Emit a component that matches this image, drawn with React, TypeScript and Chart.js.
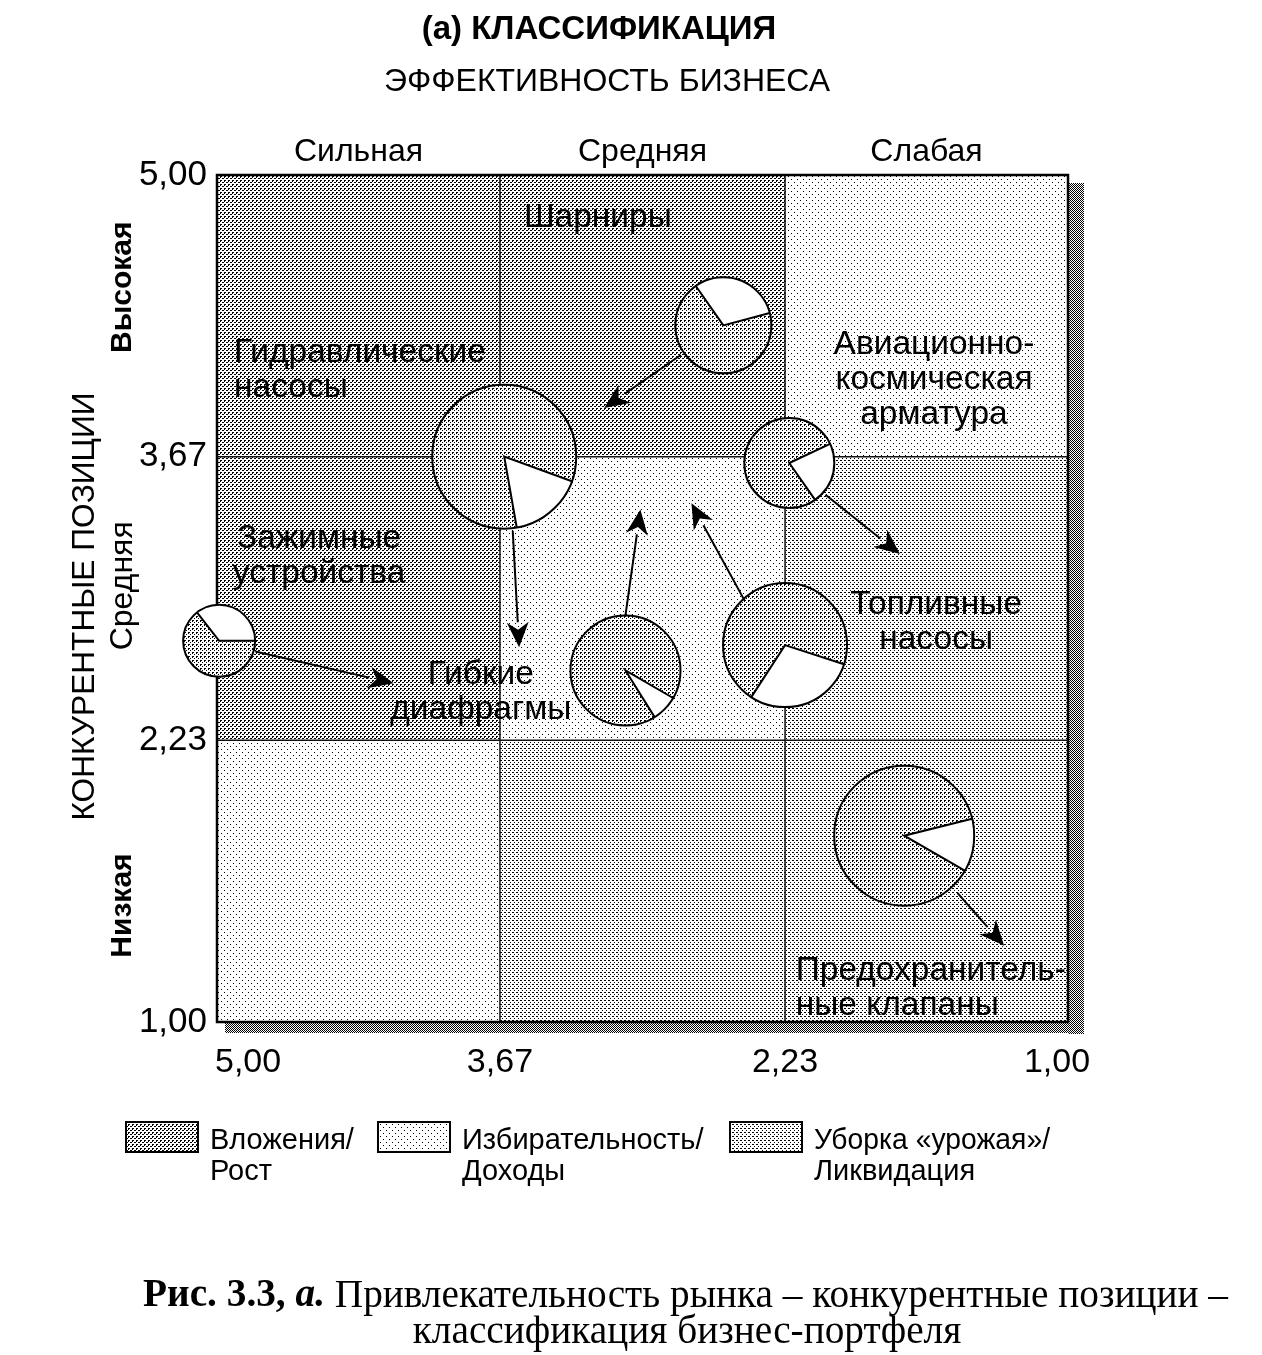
import { useEffect, useRef } from "react";
import { Chart, registerables } from "chart.js";

Chart.register(...registerables);

// ---------- data ----------
const xBounds = [5.0, 3.67, 2.33, 1.0];
const yBounds = [5.0, 3.67, 2.33, 1.0];
const xTickLabels = ["5,00", "3,67", "2,23", "1,00"];
const yTickLabels = ["5,00", "3,67", "2,23", "1,00"];
const columnNames = ["Сильная", "Средняя", "Слабая"];
const rowNames = ["Высокая", "Средняя", "Низкая"];
const rowNameY = [4.47, 3.06, 1.55];
const rowNameBold = [true, false, true];
const cellClasses = [
  ["invest", "invest", "select"],
  ["invest", "select", "harvest"],
  ["select", "harvest", "harvest"],
];

const businessLabels = [
  ["Шарниры"],
  ["Гидравлические", "насосы"],
  ["Авиационно-", "космическая", "арматура"],
  ["Зажимные", "устройства"],
  ["Топливные", "насосы"],
  ["Гибкие", "диафрагмы"],
  ["Предохранитель-", "ные клапаны"],
];
const labelX = [3.21, 4.92, 1.63, 4.52, 1.62, 3.76, 2.28];
const labelY = [4.8, 4.16, 4.2, 3.28, 2.97, 2.64, 1.24];
const labelAlign = ["center", "left", "center", "center", "center", "center", "left"];

const bubbleX = [2.62, 3.65, 2.31, 4.99, 3.08, 2.33, 1.77];
const bubbleY = [4.29, 3.67, 3.64, 2.8, 2.66, 2.78, 1.88];
const bubbleR = [48, 72, 45, 36, 55, 62, 70];
const wedgeStart = [-125, 20, -25, -128, 30, 18, -14];
const wedgeEnd = [-15, 80, 55, 0, 58, 123, 30];

const arrowFromX = [2.82, 3.61, 2.14, 4.82, 3.08, 2.52, 1.52];
const arrowFromY = [4.15, 3.32, 3.49, 2.75, 2.92, 2.99, 1.61];
const arrowToX = [3.18, 3.58, 1.79, 4.17, 3.01, 2.77, 1.3];
const arrowToY = [3.9, 2.77, 3.21, 2.6, 3.42, 3.45, 1.36];

const legendClasses = ["invest", "select", "harvest"];
const legendLines = [
  ["Вложения/", "Рост"],
  ["Избирательность/", "Доходы"],
  ["Уборка «урожая»/", "Ликвидация"],
];

const titleText = "(а) КЛАССИФИКАЦИЯ";
const subtitleText = "ЭФФЕКТИВНОСТЬ БИЗНЕСА";
const yTitleText = "КОНКУРЕНТНЫЕ ПОЗИЦИИ";
const captionBold = "Рис. 3.3, ";
const captionItalic = "а.";
const captionRest = " Привлекательность рынка – конкурентные позиции –";
const captionLine2 = "классификация бизнес-портфеля";

// ---------- styling ----------
const SANS = '"Liberation Sans", Arial, sans-serif';
const SERIF = '"Liberation Serif", "Times New Roman", serif';

function makePattern(ctx: CanvasRenderingContext2D, size: number, px: number[][]) {
  const c = document.createElement("canvas");
  c.width = size;
  c.height = size;
  const g = c.getContext("2d")!;
  g.fillStyle = "#ffffff";
  g.fillRect(0, 0, size, size);
  g.fillStyle = "#000000";
  for (const [x, y, w, h] of px) g.fillRect(x, y, w, h);
  return ctx.createPattern(c, "repeat")!;
}

export default function App() {
  const ref = useRef<HTMLCanvasElement>(null);

  useEffect(() => {
    document.body.style.overflow = "hidden";
    const canvas = ref.current!;
    const ctx0 = canvas.getContext("2d")!;
    const pats: Record<string, CanvasPattern> = {
      invest: makePattern(ctx0, 4, [[0, 0, 2, 1], [0, 1, 1, 1], [2, 2, 2, 1]]),
      harvest: makePattern(ctx0, 4, [[0, 0, 2, 1], [2, 2, 1, 1]]),
      select: makePattern(ctx0, 6, [[0, 0, 1, 1], [3, 3, 1, 1]]),
      shadow: makePattern(ctx0, 2, [[0, 0, 1, 1], [1, 1, 1, 1]]),
      pie: makePattern(ctx0, 4, [[0, 0, 2, 1], [0, 1, 1, 1], [2, 2, 1, 1]]),
    };

    const plugin = {
      id: "matrix",
      beforeDatasetsDraw(chart: any) {
        const { ctx, chartArea: a, scales } = chart;
        const xs = scales.x, ys = scales.y;
        ctx.save();
        // shadow
        ctx.fillStyle = pats.shadow;
        ctx.fillRect(a.right, a.top + 8, 16, a.bottom - a.top + 4);
        ctx.fillRect(a.left + 8, a.bottom, a.right - a.left + 8, 11);
        // cells
        for (let i = 0; i < 3; i++) {
          for (let j = 0; j < 3; j++) {
            const x0 = xs.getPixelForValue(xBounds[j]);
            const x1 = xs.getPixelForValue(xBounds[j + 1]);
            const y0 = ys.getPixelForValue(yBounds[i]);
            const y1 = ys.getPixelForValue(yBounds[i + 1]);
            ctx.fillStyle = pats[cellClasses[i][j]];
            ctx.fillRect(x0, y0, x1 - x0, y1 - y0);
          }
        }
        // grid lines
        ctx.strokeStyle = "#111";
        ctx.lineWidth = 1.5;
        for (let k = 1; k < 3; k++) {
          const x = xs.getPixelForValue(xBounds[k]);
          ctx.beginPath();
          ctx.moveTo(x, a.top);
          ctx.lineTo(x, a.bottom);
          ctx.stroke();
          const y = ys.getPixelForValue(yBounds[k]);
          ctx.beginPath();
          ctx.moveTo(a.left, y);
          ctx.lineTo(a.right, y);
          ctx.stroke();
        }
        ctx.lineWidth = 2.5;
        ctx.strokeStyle = "#000";
        ctx.strokeRect(a.left, a.top, a.right - a.left, a.bottom - a.top);

        // business labels
        ctx.fillStyle = "#000";
        ctx.font = `33.5px ${SANS}`;
        ctx.textBaseline = "middle";
        businessLabels.forEach((lines, i) => {
          const px = xs.getPixelForValue(labelX[i]);
          const py = ys.getPixelForValue(labelY[i]);
          ctx.textAlign = labelAlign[i] as CanvasTextAlign;
          lines.forEach((t, k) => ctx.fillText(t, px, py + k * 35));
        });
        ctx.restore();
      },
      afterDatasetsDraw(chart: any) {
        const { ctx, scales } = chart;
        const xs = scales.x, ys = scales.y;
        const meta = chart.getDatasetMeta(0);
        ctx.save();
        meta.data.forEach((el: any, i: number) => {
          const cx = el.x, cy = el.y, r = bubbleR[i];
          const s = (wedgeStart[i] * Math.PI) / 180;
          const e = (wedgeEnd[i] * Math.PI) / 180;
          ctx.beginPath();
          ctx.arc(cx, cy, r, 0, Math.PI * 2);
          ctx.fillStyle = pats.pie;
          ctx.fill();
          ctx.beginPath();
          ctx.moveTo(cx, cy);
          ctx.arc(cx, cy, r, s, e);
          ctx.closePath();
          ctx.fillStyle = "#fff";
          ctx.fill();
          ctx.strokeStyle = "#000";
          ctx.lineWidth = 2;
          ctx.beginPath();
          ctx.moveTo(cx + r * Math.cos(s), cy + r * Math.sin(s));
          ctx.lineTo(cx, cy);
          ctx.lineTo(cx + r * Math.cos(e), cy + r * Math.sin(e));
          ctx.stroke();
          ctx.beginPath();
          ctx.arc(cx, cy, r, 0, Math.PI * 2);
          ctx.stroke();
        });
        // arrows
        for (let i = 0; i < arrowFromX.length; i++) {
          const x0 = xs.getPixelForValue(arrowFromX[i]);
          const y0 = ys.getPixelForValue(arrowFromY[i]);
          const x1 = xs.getPixelForValue(arrowToX[i]);
          const y1 = ys.getPixelForValue(arrowToY[i]);
          const ang = Math.atan2(y1 - y0, x1 - x0);
          const L = 25, W = 11;
          const bx = x1 - L * Math.cos(ang), by = y1 - L * Math.sin(ang);
          ctx.strokeStyle = "#000";
          ctx.lineWidth = 2;
          ctx.beginPath();
          ctx.moveTo(x0, y0);
          ctx.lineTo(bx, by);
          ctx.stroke();
          ctx.fillStyle = "#000";
          ctx.beginPath();
          ctx.moveTo(x1, y1);
          ctx.lineTo(bx + W * Math.sin(ang), by - W * Math.cos(ang));
          ctx.lineTo(bx + 0.3 * L * Math.cos(ang), by + 0.3 * L * Math.sin(ang));
          ctx.lineTo(bx - W * Math.sin(ang), by + W * Math.cos(ang));
          ctx.closePath();
          ctx.fill();
        }
        ctx.restore();
      },
      afterDraw(chart: any) {
        const { ctx, chartArea: a, scales } = chart;
        const xs = scales.x, ys = scales.y;
        ctx.save();
        ctx.fillStyle = "#000";
        ctx.textBaseline = "middle";
        // titles
        ctx.textAlign = "center";
        ctx.font = `bold 33px ${SANS}`;
        ctx.fillText(titleText, 591, 22, 360);
        ctx.font = `32px ${SANS}`;
        ctx.fillText(subtitleText, 599, 74, 446);
        // column names
        ctx.font = `32px ${SANS}`;
        for (let j = 0; j < 3; j++) {
          const cx = (xs.getPixelForValue(xBounds[j]) + xs.getPixelForValue(xBounds[j + 1])) / 2;
          ctx.fillText(columnNames[j], cx, a.top - 23);
        }
        // y tick labels
        ctx.font = `35px ${SANS}`;
        ctx.textAlign = "right";
        yBounds.forEach((v, k) => {
          ctx.fillText(yTickLabels[k], a.left - 10, ys.getPixelForValue(v));
        });
        // x tick labels
        ctx.font = `34px ${SANS}`;
        xBounds.forEach((v, k) => {
          const px = xs.getPixelForValue(v);
          if (k === 0) {
            ctx.textAlign = "left";
            ctx.fillText(xTickLabels[k], px - 2, a.bottom + 41);
          } else {
            ctx.textAlign = "center";
            ctx.fillText(xTickLabels[k], px + (k === 3 ? -11 : 0), a.bottom + 41);
          }
        });
        // y title and row names
        const midY = (a.top + a.bottom) / 2;
        ctx.save();
        ctx.translate(a.left - 132, midY + 8);
        ctx.rotate(-Math.PI / 2);
        ctx.textAlign = "center";
        ctx.font = `32px ${SANS}`;
        ctx.fillText(yTitleText, 0, 0, 428);
        ctx.restore();
        rowNames.forEach((t, k) => {
          ctx.save();
          ctx.translate(a.left - 94, ys.getPixelForValue(rowNameY[k]));
          ctx.rotate(-Math.PI / 2);
          ctx.textAlign = "center";
          ctx.font = `${rowNameBold[k] ? "bold " : ""}${rowNameBold[k] ? 30 : 32}px ${SANS}`;
          ctx.fillText(t, 0, 0);
          ctx.restore();
        });
        // legend
        const boxX = [118, 370, 722];
        const textMax = [146, 246, 236];
        legendClasses.forEach((c, k) => {
          ctx.fillStyle = pats[c];
          ctx.fillRect(boxX[k], 1114, 72, 30);
          ctx.strokeStyle = "#000";
          ctx.lineWidth = 2;
          ctx.strokeRect(boxX[k], 1114, 72, 30);
          ctx.fillStyle = "#000";
          ctx.textAlign = "left";
          ctx.font = `29px ${SANS}`;
          const tx = boxX[k] + 84;
          ctx.fillText(legendLines[k][0], tx, 1133, textMax[k]);
          ctx.fillText(legendLines[k][1], tx, 1164);
        });
        // caption
        ctx.textAlign = "left";
        const fb = `bold 40px ${SERIF}`;
        const fi = `bold italic 40px ${SERIF}`;
        const fn = `40px ${SERIF}`;
        ctx.font = fb;
        const w1 = ctx.measureText(captionBold).width;
        ctx.font = fi;
        const w2 = ctx.measureText(captionItalic).width;
        ctx.font = fn;
        const w3 = ctx.measureText(captionRest).width;
        const w4 = ctx.measureText(captionLine2).width;
        const sx = 1085 / (w1 + w2 + w3);
        ctx.save();
        ctx.translate(135, 1288);
        ctx.scale(sx, 1);
        ctx.font = fb;
        ctx.fillText(captionBold, 0, 0);
        ctx.font = fi;
        ctx.fillText(captionItalic, w1, 0);
        ctx.font = fn;
        ctx.fillText(captionRest, w1 + w2, 0);
        ctx.restore();
        ctx.save();
        ctx.translate(679 - (w4 * sx) / 2, 1324);
        ctx.scale(sx, 1);
        ctx.font = fn;
        ctx.fillText(captionLine2, 0, 0);
        ctx.restore();
        ctx.restore();
      },
    };

    const chart = new Chart(canvas, {
      type: "bubble",
      data: {
        datasets: [
          {
            data: bubbleX.map((x, i) => ({ x, y: bubbleY[i], r: bubbleR[i] })),
            backgroundColor: "rgba(0,0,0,0)",
            borderColor: "rgba(0,0,0,0)",
            borderWidth: 0,
          },
        ],
      },
      options: {
        responsive: false,
        animation: false,
        devicePixelRatio: 1,
        layout: { padding: { left: 209, top: 167, right: 186, bottom: 333 } },
        plugins: { legend: { display: false }, tooltip: { enabled: false } },
        events: [],
        scales: {
          x: { type: "linear", min: 1, max: 5, reverse: true, display: false },
          y: { type: "linear", min: 1, max: 5, display: false },
        },
      },
      plugins: [plugin],
    });
    return () => chart.destroy();
  }, []);

  return <canvas ref={ref} width={1246} height={1347} style={{ display: "block" }} />;
}
